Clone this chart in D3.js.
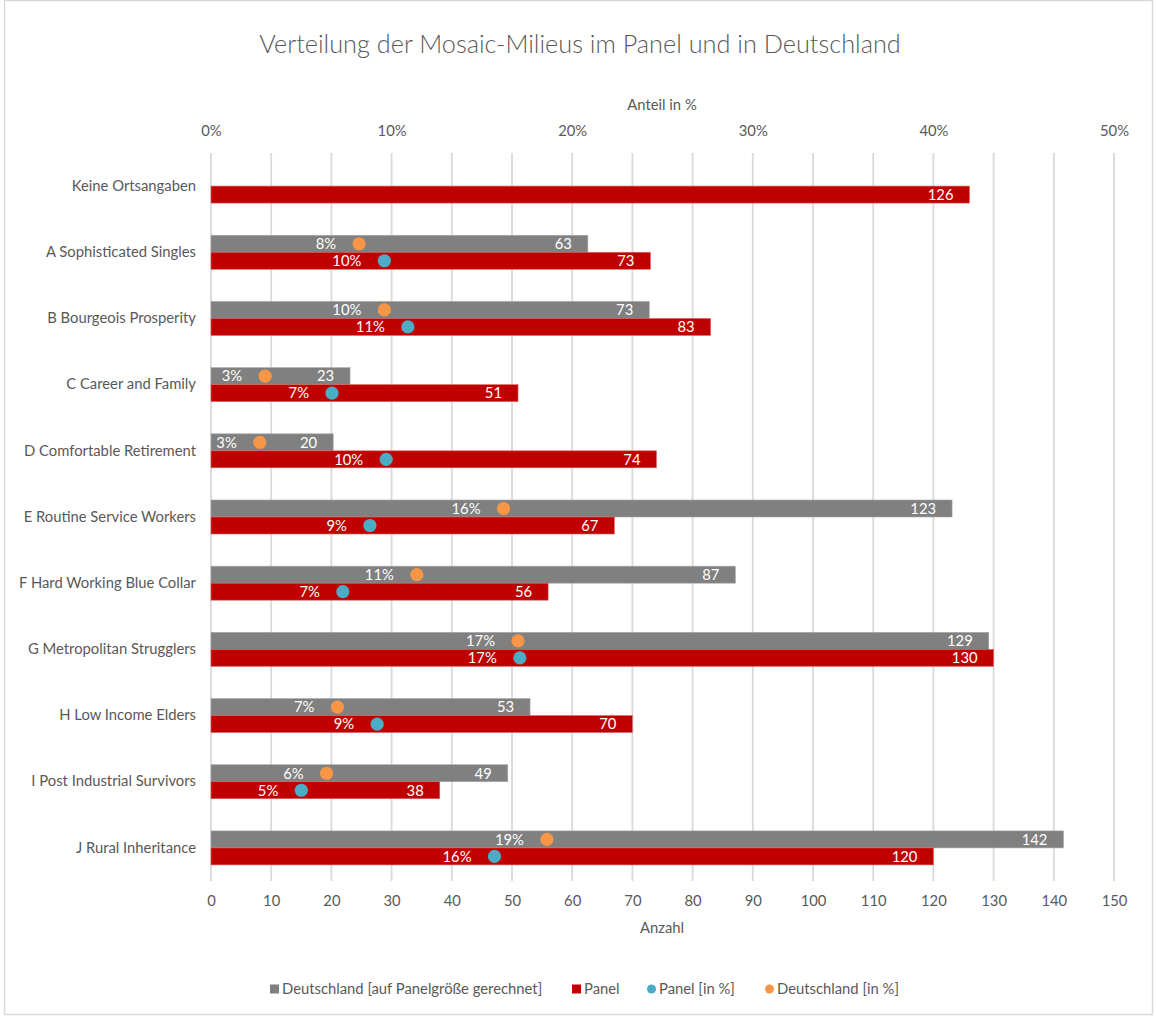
<!DOCTYPE html>
<html><head><meta charset="utf-8">
<script src="https://cdn.jsdelivr.net/npm/d3@7"></script>
<style>
body{margin:0;background:#fff;}
text{font-family:Lato,"Open Sans",sans-serif;}
</style></head>
<body>
<svg id="chart" width="1156" height="1019"></svg>
<script>
const categories = ["Keine Ortsangaben","A Sophisticated Singles","B Bourgeois Prosperity","C Career and Family","D Comfortable Retirement","E Routine Service Workers","F Hard Working Blue Collar","G Metropolitan Strugglers","H Low Income Elders","I Post Industrial Survivors","J Rural Inheritance"];
const panel = [126,73,83,51,74,67,56,130,70,38,120];
const deutschland = [null,62.6,72.8,23.1,20.3,123.1,87.1,129.2,53.0,49.3,141.6];
const panelPct = [null,0.096,0.109,0.067,0.097,0.088,0.073,0.171,0.092,0.050,0.157];
const deutschPct = [null,0.082,0.096,0.030,0.027,0.162,0.114,0.170,0.070,0.064,0.186];
const countTicks = d3.range(0,151,10);
const pctTicks = [0,0.1,0.2,0.3,0.4,0.5];

const C = {grey:"#808080", red:"#C00000", blue:"#4BACC6", orange:"#F79646", text:"#595959", grid:"#D9D9D9"};
const FS = 14.8;
const svg = d3.select("#chart");
svg.append("rect").attr("x",4.5).attr("y",0.5).attr("width",1148).attr("height",1014)
  .attr("fill","#fff").attr("stroke","#D9D9D9").attr("stroke-width",1.5);

const x = d3.scaleLinear().domain([0,150]).range([211,1114]);
const xp = d3.scaleLinear().domain([0,0.5]).range([211,1114]);
const y = d3.scaleBand().domain(categories).range([153,881]);
const bh = 17;

// title
svg.append("text").attr("x",580).attr("y",53).attr("text-anchor","middle")
  .attr("font-size",25.3).attr("font-weight",300).attr("fill",C.text)
  .text("Verteilung der Mosaic-Milieus im Panel und in Deutschland");

// gridlines
svg.append("g").selectAll("line").data(countTicks).join("line")
  .attr("x1",d=>x(d)).attr("x2",d=>x(d)).attr("y1",153).attr("y2",881)
  .attr("stroke",C.grid).attr("stroke-width",1.8);

// bottom axis
const bottomAx = svg.append("g").attr("transform","translate(0,881)")
  .call(d3.axisBottom(x).tickValues(countTicks).tickSize(0).tickPadding(14));
bottomAx.select(".domain").remove();
bottomAx.selectAll("text").attr("font-size",FS).attr("fill",C.text).style("font-family","Lato");
svg.append("text").attr("x",662).attr("y",933).attr("text-anchor","middle")
  .attr("font-size",FS).attr("fill",C.text).text("Anzahl");

// top axis
const topAx = svg.append("g").attr("transform","translate(0,136)")
  .call(d3.axisTop(xp).tickValues(pctTicks).tickFormat(d3.format(".0%")).tickSize(0).tickPadding(0));
topAx.select(".domain").remove();
topAx.selectAll("text").attr("font-size",FS).attr("fill",C.text).style("font-family","Lato");
svg.append("text").attr("x",662).attr("y",110).attr("text-anchor","middle")
  .attr("font-size",FS).attr("fill",C.text).text("Anteil in %");

// category labels
const leftAx = svg.append("g").attr("transform","translate(211,0)")
  .call(d3.axisLeft(y).tickSize(0).tickPadding(15));
leftAx.select(".domain").remove();
leftAx.selectAll("text").attr("font-size",FS).attr("fill",C.text).style("font-family","Lato");

const rows = categories.map((c,i)=>({c,i,p:panel[i],d:deutschland[i],pp:panelPct[i],dp:deutschPct[i]}));
const cy = d=>y(d.c)+y.bandwidth()/2;

// grey bars
const gr = rows.filter(d=>d.d!=null);
svg.append("g").selectAll("rect").data(gr).join("rect")
  .attr("x",x(0)).attr("y",d=>cy(d)-bh).attr("width",d=>x(d.d)-x(0)).attr("height",bh)
  .attr("fill",C.grey).attr("stroke","#a6a6a6").attr("stroke-width",0.6);
// red bars
svg.append("g").selectAll("rect").data(rows).join("rect")
  .attr("x",x(0)).attr("y",d=>cy(d)).attr("width",d=>x(d.p)-x(0)).attr("height",bh)
  .attr("fill",C.red).attr("stroke","#d96666").attr("stroke-width",0.6);

// bar value labels
svg.append("g").selectAll("text").data(gr).join("text")
  .attr("x",d=>x(d.d)-16).attr("y",d=>cy(d)-bh/2).attr("dy","0.36em").attr("text-anchor","end")
  .attr("font-size",FS).attr("fill","#fff").text(d=>d3.format(".0f")(d.d));
svg.append("g").selectAll("text").data(rows).join("text")
  .attr("x",d=>x(d.p)-16).attr("y",d=>cy(d)+bh/2).attr("dy","0.36em").attr("text-anchor","end")
  .attr("font-size",FS).attr("fill","#fff").text(d=>d.p);

// dots
const pr = rows.filter(d=>d.pp!=null);
svg.append("g").selectAll("circle").data(pr).join("circle")
  .attr("cx",d=>xp(d.dp)).attr("cy",d=>cy(d)-bh/2).attr("r",6.6).attr("fill",C.orange);
svg.append("g").selectAll("circle").data(pr).join("circle")
  .attr("cx",d=>xp(d.pp)).attr("cy",d=>cy(d)+bh/2).attr("r",6.6).attr("fill",C.blue);
svg.append("g").selectAll("text").data(pr).join("text")
  .attr("x",d=>xp(d.dp)-23).attr("y",d=>cy(d)-bh/2).attr("dy","0.36em").attr("text-anchor","end")
  .attr("font-size",FS).attr("fill","#fff").text(d=>d3.format(".0%")(d.dp));
svg.append("g").selectAll("text").data(pr).join("text")
  .attr("x",d=>xp(d.pp)-23).attr("y",d=>cy(d)+bh/2).attr("dy","0.36em").attr("text-anchor","end")
  .attr("font-size",FS).attr("fill","#fff").text(d=>d3.format(".0%")(d.pp));

// legend
const legend = [
  {t:"Deutschland [auf Panelgröße gerechnet]", c:C.grey, s:"sq", x:270},
  {t:"Panel", c:C.red, s:"sq", x:572},
  {t:"Panel [in %]", c:C.blue, s:"ci", x:647},
  {t:"Deutschland [in %]", c:C.orange, s:"ci", x:765}
];
const lg = svg.append("g").selectAll("g").data(legend).join("g")
  .attr("transform",d=>`translate(${d.x},989)`);
lg.filter(d=>d.s==="sq").append("rect").attr("x",0).attr("y",-4.5).attr("width",9).attr("height",9).attr("fill",d=>d.c);
lg.filter(d=>d.s==="ci").append("circle").attr("cx",4.5).attr("cy",0).attr("r",4.5).attr("fill",d=>d.c);
lg.append("text").attr("x",12).attr("y",0).attr("dy","0.36em").attr("font-size",FS).attr("fill",C.text).text(d=>d.t);
</script>
</body></html>
